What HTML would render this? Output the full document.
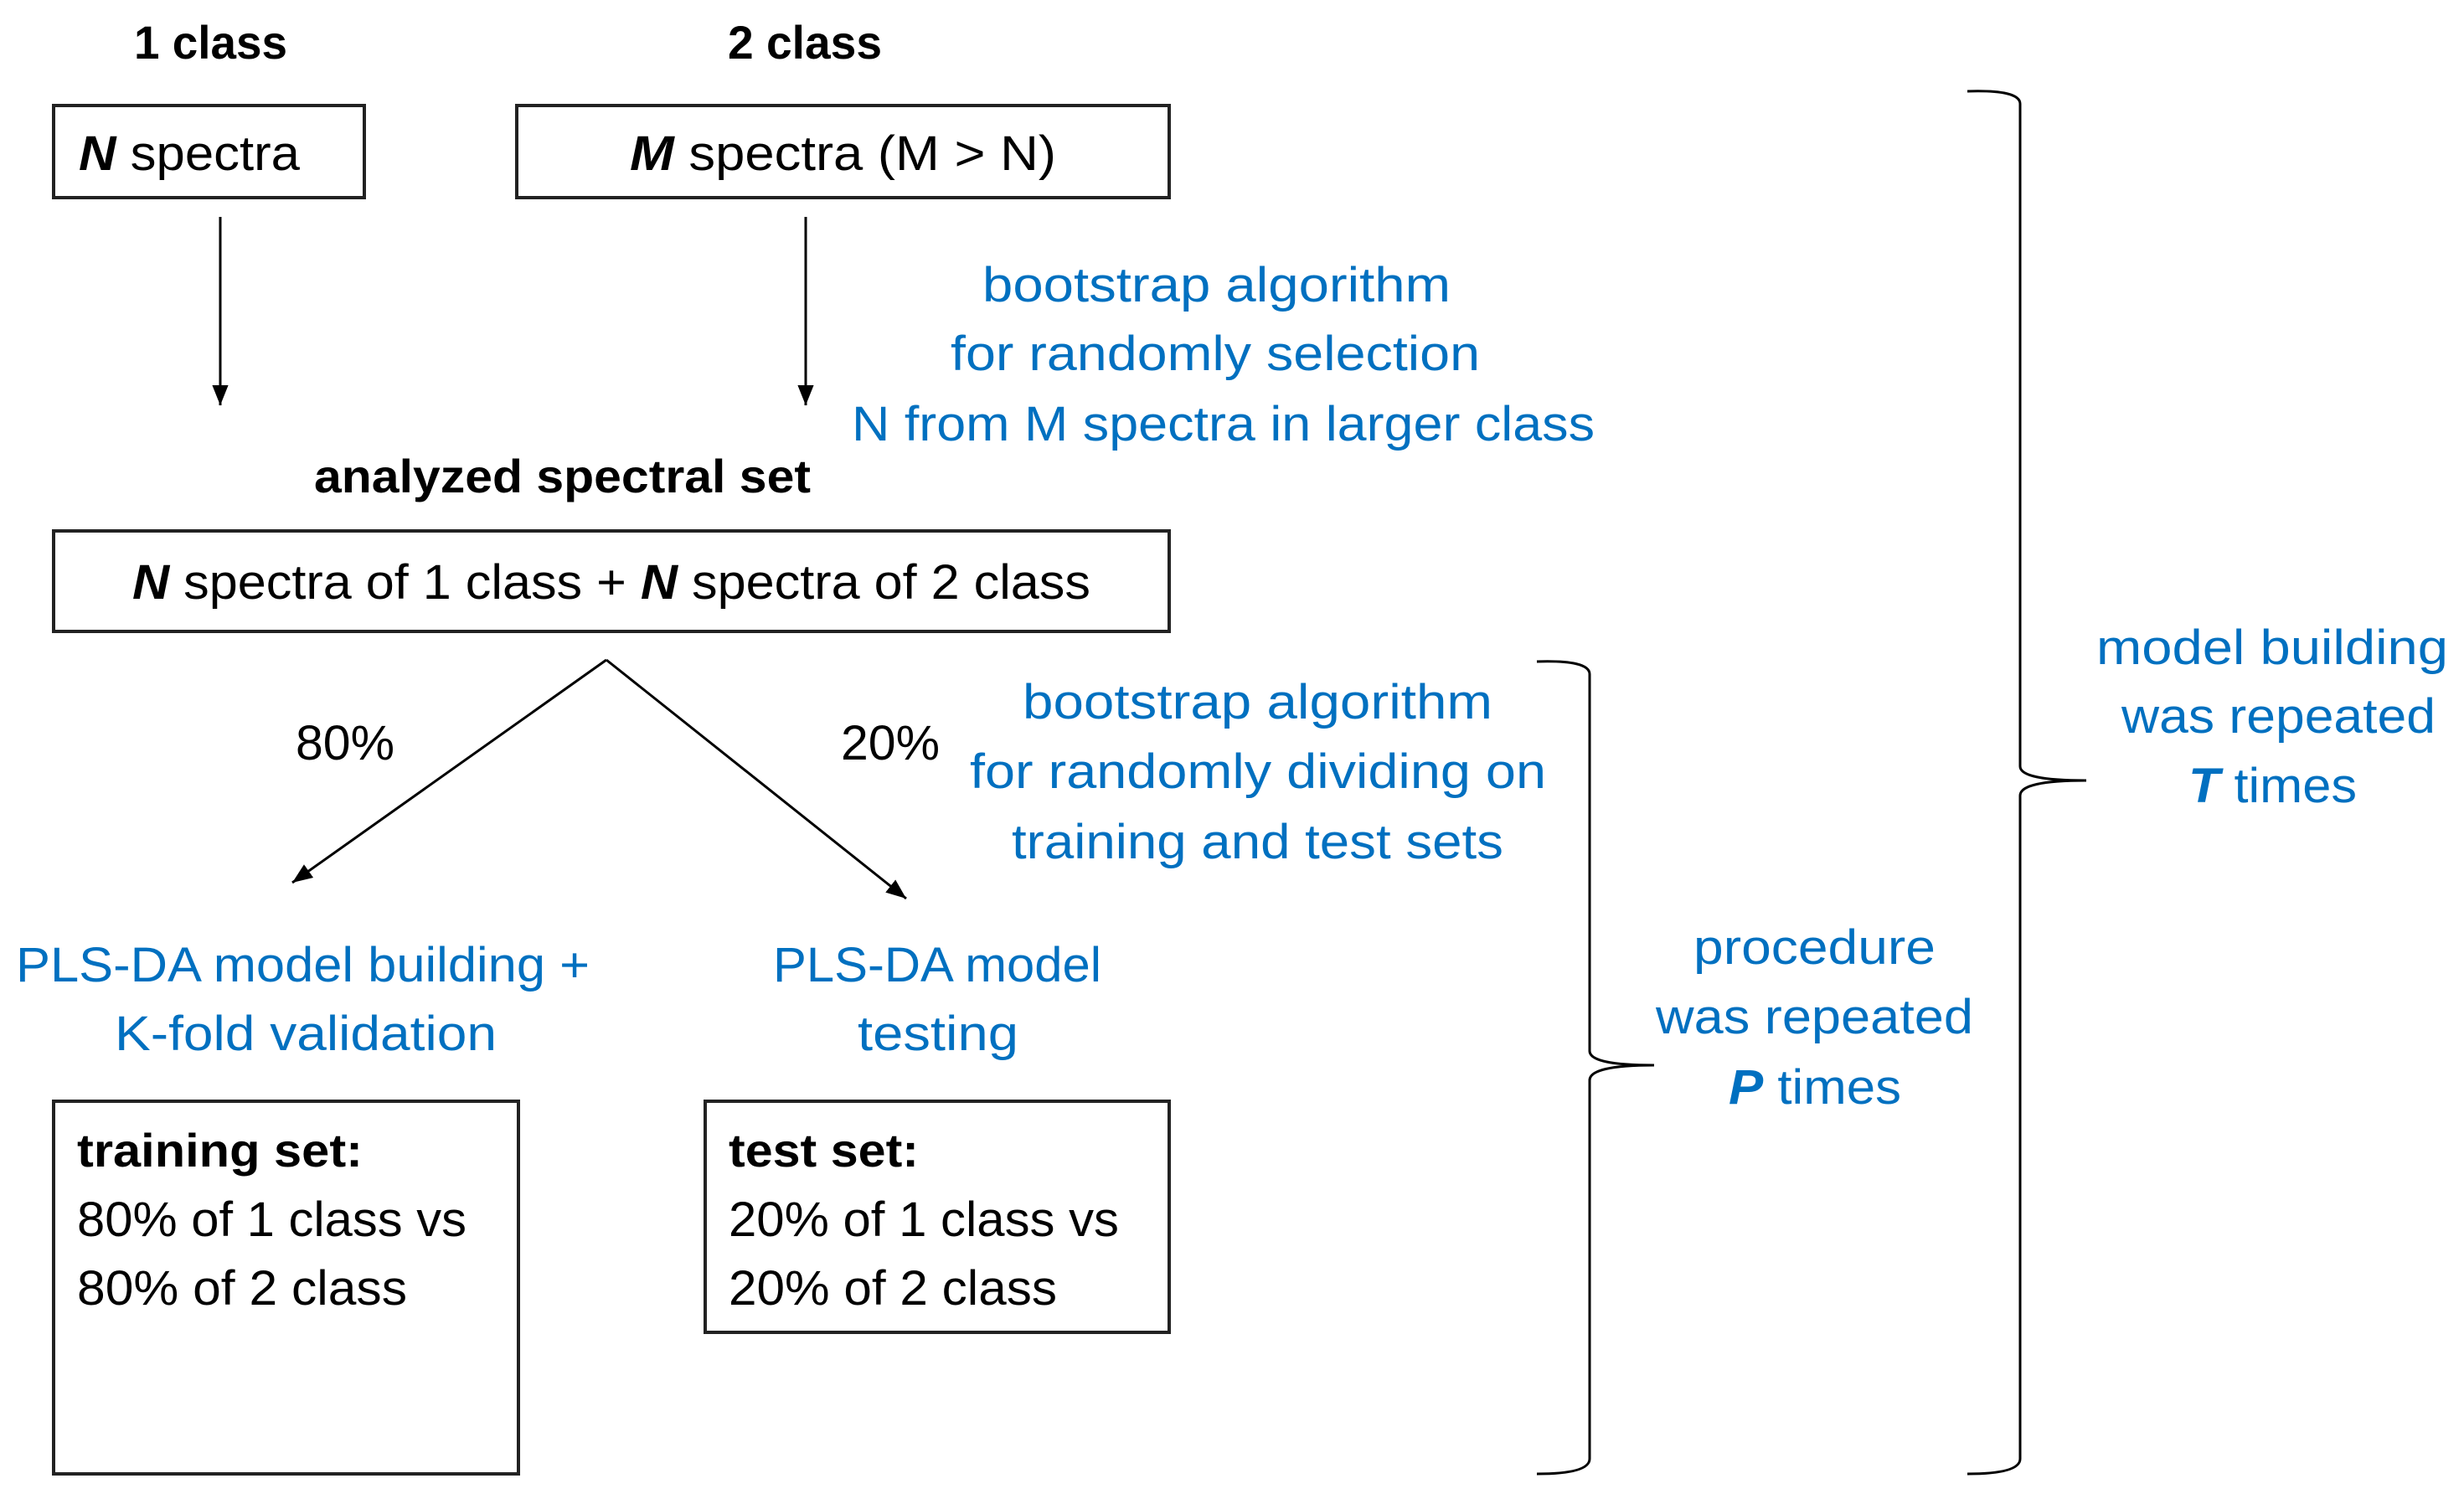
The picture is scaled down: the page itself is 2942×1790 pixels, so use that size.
<!DOCTYPE html>
<html><head><meta charset="utf-8"><style>html,body{margin:0;padding:0;background:#fff}svg{display:block}</style></head>
<body>
<svg width="2942" height="1790" viewBox="0 0 2942 1790" xmlns="http://www.w3.org/2000/svg" font-family="'Liberation Sans', sans-serif">
<defs>
<marker id="ah" markerWidth="10" markerHeight="10" refX="9" refY="5" orient="auto" markerUnits="userSpaceOnUse" viewBox="0 0 10 10">
</marker>
<marker id="a" viewBox="0 0 10 10" refX="10" refY="5" markerWidth="24" markerHeight="24" markerUnits="userSpaceOnUse" orient="auto"><path d="M0,1 L10,5 L0,9 z" fill="#000"/></marker>
</defs>
<g fill="none" stroke="#222" stroke-width="4">
<rect x="64" y="126" width="371" height="110"/>
<rect x="617" y="126" width="779" height="110"/>
<rect x="64" y="634" width="1332" height="120"/>
<rect x="64" y="1315" width="555" height="445"/>
<rect x="842" y="1315" width="554" height="276"/>
</g>
<g stroke="#000" stroke-width="3" fill="none">
<line x1="263" y1="259" x2="263" y2="484" marker-end="url(#a)"/>
<line x1="962" y1="259" x2="962" y2="484" marker-end="url(#a)"/>
<line x1="724" y1="788" x2="349" y2="1054" marker-end="url(#a)"/>
<line x1="724" y1="788" x2="1082" y2="1073" marker-end="url(#a)"/>
<path d="M1835,790 Q1898,788 1898,805 L1898,1255 Q1898,1272 1975,1272 Q1898,1272 1898,1290 L1898,1742 Q1898,1760 1835,1760"/>
<path d="M2349,109 Q2412,107 2412,124 L2412,915 Q2412,932 2491,932 Q2412,932 2412,950 L2412,1742 Q2412,1760 2349,1760"/>
</g>
<g fill="#000" font-size="56" font-weight="bold" lengthAdjust="spacingAndGlyphs">
<text x="160" y="70" textLength="183" lengthAdjust="spacingAndGlyphs">1 class</text>
<text x="869" y="70" textLength="184" lengthAdjust="spacingAndGlyphs">2 class</text>
<text x="375" y="588" textLength="593" lengthAdjust="spacingAndGlyphs">analyzed spectral set</text>
<text x="92" y="1393" textLength="341" lengthAdjust="spacingAndGlyphs">training set:</text>
<text x="870" y="1393" textLength="227" lengthAdjust="spacingAndGlyphs">test set:</text>
</g>
<g fill="#000" font-size="58">
<text x="94" y="203" textLength="264" lengthAdjust="spacingAndGlyphs"><tspan font-weight="bold" font-style="italic">N</tspan> spectra</text>
<text x="752" y="203" textLength="509" lengthAdjust="spacingAndGlyphs"><tspan font-weight="bold" font-style="italic">M</tspan> spectra (M &gt; N)</text>
<text x="158" y="715" textLength="1144" lengthAdjust="spacingAndGlyphs"><tspan font-weight="bold" font-style="italic">N</tspan> spectra of 1 class + <tspan font-weight="bold" font-style="italic">N</tspan> spectra of 2 class</text>
<text x="353" y="907" textLength="118" lengthAdjust="spacingAndGlyphs">80%</text>
<text x="1004" y="907" textLength="118" lengthAdjust="spacingAndGlyphs">20%</text>
<text x="92" y="1476" textLength="465" lengthAdjust="spacingAndGlyphs">80% of 1 class vs</text>
<text x="92" y="1558" textLength="394" lengthAdjust="spacingAndGlyphs">80% of 2 class</text>
<text x="870" y="1476" textLength="466" lengthAdjust="spacingAndGlyphs">20% of 1 class vs</text>
<text x="870" y="1558" textLength="392" lengthAdjust="spacingAndGlyphs">20% of 2 class</text>
</g>
<g fill="#0070C0" font-size="58">
<text x="1173" y="360" textLength="559" lengthAdjust="spacingAndGlyphs">bootstrap algorithm</text>
<text x="1135" y="442" textLength="632" lengthAdjust="spacingAndGlyphs">for randomly selection</text>
<text x="1017" y="526" textLength="887" lengthAdjust="spacingAndGlyphs">N from M spectra in larger class</text>
<text x="1221" y="858" textLength="561" lengthAdjust="spacingAndGlyphs">bootstrap algorithm</text>
<text x="1158" y="941" textLength="688" lengthAdjust="spacingAndGlyphs">for randomly dividing on</text>
<text x="1208" y="1025" textLength="587" lengthAdjust="spacingAndGlyphs">training and test sets</text>
<text x="19" y="1172" textLength="685" lengthAdjust="spacingAndGlyphs">PLS-DA model building +</text>
<text x="137" y="1254" textLength="456" lengthAdjust="spacingAndGlyphs">K-fold validation</text>
<text x="923" y="1172" textLength="392" lengthAdjust="spacingAndGlyphs">PLS-DA model</text>
<text x="1024" y="1254" textLength="192" lengthAdjust="spacingAndGlyphs">testing</text>
<text x="2022" y="1151" textLength="289" lengthAdjust="spacingAndGlyphs">procedure</text>
<text x="1977" y="1234" textLength="379" lengthAdjust="spacingAndGlyphs">was repeated</text>
<text x="2064" y="1318" textLength="206" lengthAdjust="spacingAndGlyphs"><tspan font-weight="bold" font-style="italic">P</tspan> times</text>
<text x="2503" y="793" textLength="420" lengthAdjust="spacingAndGlyphs">model building</text>
<text x="2533" y="875" textLength="375" lengthAdjust="spacingAndGlyphs">was repeated</text>
<text x="2613" y="958" textLength="201" lengthAdjust="spacingAndGlyphs"><tspan font-weight="bold" font-style="italic">T</tspan> times</text>
</g>
</svg>
</body></html>
